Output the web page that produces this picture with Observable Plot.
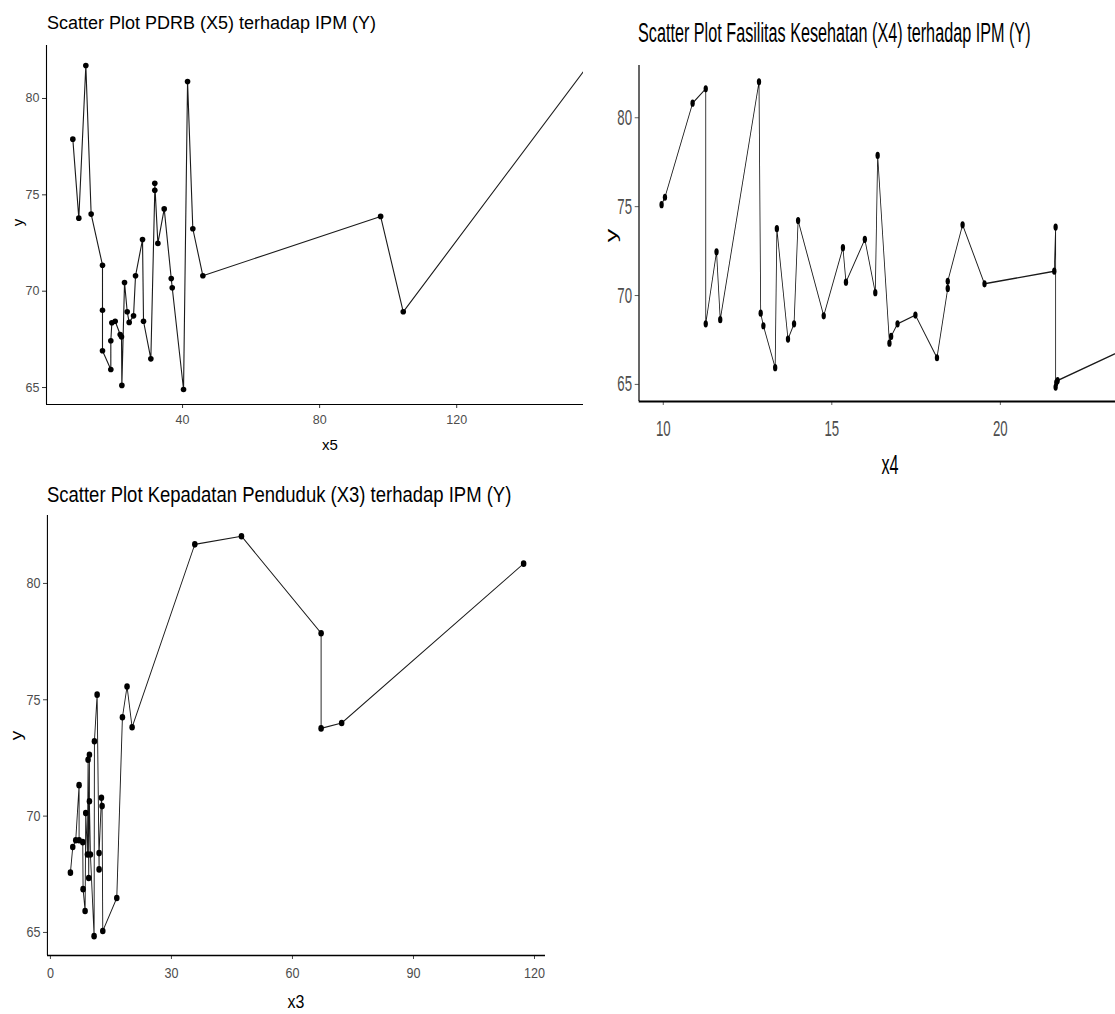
<!DOCTYPE html>
<html><head><meta charset="utf-8">
<script src="https://cdn.jsdelivr.net/npm/d3@7"></script>
<script src="https://cdn.jsdelivr.net/npm/@observablehq/plot@0.6"></script>
<style>
body{margin:0;background:#fff;}
#root{position:relative;width:1115px;height:1014px;overflow:hidden;background:#fff;font-family:"Liberation Sans",Arial,Helvetica,sans-serif;}
.panel{position:absolute;transform-origin:0 0;}
.panel svg{position:absolute;left:0;top:0;}
.txt{position:absolute;white-space:nowrap;line-height:1;color:#000;}
</style></head><body><div id="root"></div>
<script>
// ---- Panel 1: PDRB (X5) vs IPM (Y) ----
const x5 = [7.98, 9.73, 11.78, 13.33, 16.64, 16.64, 16.64, 19.07, 19.07, 19.37, 20.34, 21.8, 22.19, 22.29, 23.07, 23.85, 24.43, 25.7, 26.28, 28.32, 28.61, 30.75, 31.9, 31.9, 32.8, 34.65, 36.7, 36.99, 40.29, 41.46, 43.0, 45.93, 97.8, 104.4, 159.5];
const y_x5 = [77.89, 73.79, 81.71, 74.0, 71.35, 69.01, 66.91, 65.94, 67.43, 68.36, 68.44, 67.75, 67.63, 65.11, 70.45, 68.93, 68.38, 68.72, 70.8, 72.68, 68.44, 66.49, 75.24, 75.6, 72.48, 74.27, 70.66, 70.18, 64.9, 80.88, 73.24, 70.8, 73.88, 68.93, 82.0];
const x5Ticks = [40, 80, 120];

// ---- Panel 2: Fasilitas Kesehatan (X4) vs IPM (Y) ----
const x4 = [9.95, 10.05, 10.87, 11.26, 11.26, 11.58, 11.69, 12.84, 12.89, 12.97, 13.32, 13.37, 13.70, 13.88, 14.00, 14.76, 15.33, 15.42, 15.98, 16.29, 16.36, 16.71, 16.76, 16.95, 17.48, 18.12, 18.44, 18.44, 18.88, 19.53, 21.60, 21.64, 21.64, 21.66, 21.70, 24.5];
const y_x4 = [75.11, 75.53, 80.82, 81.63, 68.41, 72.46, 68.64, 82.02, 69.01, 68.3, 65.94, 73.76, 67.55, 68.41, 74.22, 68.86, 72.69, 70.75, 73.16, 70.16, 77.88, 67.32, 67.7, 68.41, 68.9, 66.5, 70.4, 70.8, 73.98, 70.66, 71.37, 73.85, 64.85, 65.1, 65.22, 67.7];
const x4Ticks = [10, 15, 20];

// ---- Panel 3: Kepadatan Penduduk (X3) vs IPM (Y) ----
const x3 = [4.96, 5.54, 6.28, 7.11, 7.11, 8.02, 8.10, 8.60, 8.76, 9.18, 9.34, 9.50, 9.67, 9.67, 9.92, 10.83, 10.91, 11.58, 12.07, 12.07, 12.65, 12.81, 12.98, 16.45, 17.85, 19.0, 20.25, 35.79, 47.36, 67.1, 67.1, 72.2, 117.3];
const y_x3 = [67.57, 68.67, 68.96, 71.33, 68.96, 68.88, 66.86, 65.92, 70.13, 68.35, 72.42, 67.34, 72.64, 70.64, 68.35, 64.84, 73.22, 75.22, 67.71, 68.41, 70.79, 70.43, 65.06, 66.48, 74.25, 75.57, 73.82, 81.68, 82.03, 77.86, 73.77, 74.0, 80.85];
const x3Ticks = [0, 30, 60, 90, 120];

const yTicks = [65, 70, 75, 80];

const FONT = '"Liberation Sans", Arial, Helvetica, sans-serif';
const root = document.getElementById("root");

function addText(parent, str, {x, base, size, anchor = "start", color = "#000", rotate = false}) {
  const d = document.createElement("div");
  d.className = "txt";
  d.textContent = str;
  d.style.fontSize = size + "px";
  d.style.color = color;
  if (rotate) {
    d.style.width = "100px";
    d.style.textAlign = "center";
    d.style.left = (x - 50) + "px";
    d.style.top = (base - size / 2) + "px";
    d.style.transform = "rotate(-90deg)";
    d.style.transformOrigin = "50% 50%";
  } else {
    d.style.top = (base - 0.846 * size) + "px";
    if (anchor === "middle") {
      d.style.width = "600px";
      d.style.textAlign = "center";
      d.style.left = (x - 300) + "px";
    } else {
      d.style.left = x + "px";
    }
  }
  parent.appendChild(d);
}

function panel(c) {
  const div = document.createElement("div");
  div.className = "panel";
  div.style.left = c.left + "px";
  div.style.top = c.top + "px";
  div.style.width = c.W + "px";
  div.style.height = c.H + "px";
  div.style.transform = `scaleX(${c.s})`;
  root.appendChild(div);

  const data = c.xs.map((x, i) => ({x, y: c.ys[i]}));
  const chart = Plot.plot({
    width: c.W, height: c.H,
    marginLeft: c.m[3], marginRight: c.m[1], marginTop: c.m[0], marginBottom: c.m[2],
    x: {domain: c.xDomain},
    y: {domain: c.yDomain},
    style: {fontFamily: FONT, fontSize: c.tick + "px", background: "transparent", overflow: "visible"},
    marks: [
      Plot.line(data, {x: "x", y: "y", stroke: "#1a1a1a", strokeWidth: c.sw, clip: true}),
      Plot.dot(data, {x: "x", y: "y", r: c.r, fill: "#000", stroke: "none", clip: true}),
      Plot.axisX({ticks: c.xTicks, tickSize: c.tsx, tickPadding: c.padX, label: null, stroke: "#333", fill: "#4d4d4d", tickFormat: d => String(d)}),
      Plot.axisY({ticks: yTicks, tickSize: c.tsy, tickPadding: c.padY, label: null, stroke: "#333", fill: "#4d4d4d", tickFormat: d => String(d)}),
      Plot.ruleX([c.xDomain[0]], {stroke: "#000", strokeWidth: c.aw}),
      Plot.ruleY([c.yDomain[0]], {stroke: "#000", strokeWidth: c.aw})
    ]
  });
  div.appendChild(chart);
  addText(div, c.title, {x: c.titleX, base: c.titleBase, size: c.titleSize});
  addText(div, c.xLabel, {x: c.xLabelX, base: c.xLabelBase, size: c.labelSize, anchor: "middle"});
  addText(div, "y", {x: c.yLabelX, base: c.yLabelY, size: c.labelSize, rotate: true});
}

// Panel 1 (top-left)
panel({
  left: 0, top: 0, s: 1, W: 590, H: 460, m: [45, 7, 56, 46],
  xDomain: [0.3, 157], yDomain: [64.12, 82.75],
  xs: x5, ys: y_x5, xTicks: x5Ticks,
  tick: 12.5, tsx: 4, tsy: 4, padX: 7, padY: 3, r: 2.8, sw: 1.1, aw: 1.1,
  title: "Scatter Plot PDRB (X5) terhadap IPM (Y)", titleX: 47, titleBase: 29, titleSize: 18,
  xLabel: "x5", xLabelX: 330, xLabelBase: 450, labelSize: 15,
  yLabelX: 17, yLabelY: 222
});

// Panel 2 (top-right, horizontally condensed)
const s2 = 0.6;
panel({
  left: 600, top: 0, s: s2, W: 515 / s2, H: 490, m: [65, 0, 89, 38.7 / s2],
  xDomain: [9.28, 23.41], yDomain: [64.04, 82.94],
  xs: x4, ys: y_x4, xTicks: x4Ticks,
  tick: 22, tsx: 4, tsy: 4 / s2, padX: 15, padY: 3 / s2, r: 3.6, sw: 1.4, aw: 2,
  title: "Scatter Plot Fasilitas Kesehatan (X4) terhadap IPM (Y)", titleX: 38 / s2, titleBase: 43, titleSize: 27,
  xLabel: "x4", xLabelX: 290 / s2, xLabelBase: 475, labelSize: 27,
  yLabelX: 12 / s2, yLabelY: 235
});

// Panel 3 (bottom-left, slightly condensed)
const s3 = 0.84;
panel({
  left: 0, top: 470, s: s3, W: 560 / s3, H: 544, m: [45, 560 / s3 - 545 / s3, 59, 47 / s3],
  xDomain: [-0.74, 122.7], yDomain: [64.01, 82.92],
  xs: x3, ys: y_x3, xTicks: x3Ticks,
  tick: 15, tsx: 4, tsy: 4 / s3, padX: 8, padY: 3 / s3, r: 3.3, sw: 1.1, aw: 1.3,
  title: "Scatter Plot Kepadatan Penduduk (X3) terhadap IPM (Y)", titleX: 47 / s3, titleBase: 33, titleSize: 22,
  xLabel: "x3", xLabelX: 296 / s3, xLabelBase: 538, labelSize: 19,
  yLabelX: 17 / s3, yLabelY: 265
});
</script>
</body></html>
